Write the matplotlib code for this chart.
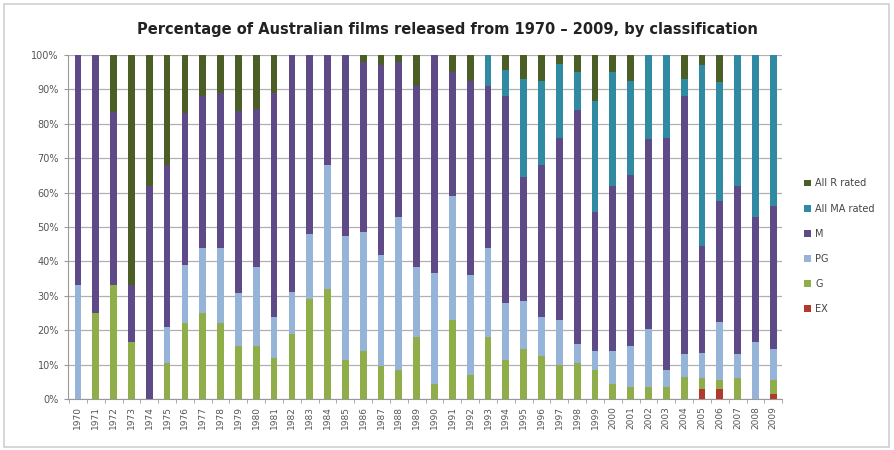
import numpy as np
import matplotlib
matplotlib.use("Agg")
from matplotlib import pyplot as plt
from matplotlib.patches import Rectangle

years = [str(y) for y in range(1970, 2010)]

# percentages per classification
ex = [0, 0, 0, 0, 0, 0, 0, 0, 0, 0,
      0, 0, 0, 0, 0, 0, 0, 0, 0, 0,
      0, 0, 0, 0, 0, 0, 0, 0, 0, 0,
      0, 0, 0, 0, 0, 3, 3, 0, 0, 1.5]
g = [0, 25, 33.3, 16.7, 0, 10.5, 22, 25, 22, 15.4,
     15.4, 12, 19, 29, 32, 11.5, 14, 9.5, 8.5, 18,
     4.5, 23, 7, 18, 11.5, 14.5, 12.5, 10, 10.5, 8.5,
     4.5, 3.5, 3.5, 3.5, 6.5, 3, 2.5, 6, 0, 4]
pg = [33.3, 0, 0, 0, 0, 10.5, 17, 19, 22, 15.4,
      23, 12, 12, 19, 36, 36, 34.5, 32.5, 44.5, 20.5,
      32, 36, 29, 26, 16.5, 14, 11.5, 13, 5.5, 5.5,
      9.5, 12, 17, 5, 6.5, 7.5, 17, 7, 16.5, 9]
m = [66.7, 75, 50, 16.6, 62, 47, 44, 44, 45, 53,
     46, 65, 69, 52, 32, 52.5, 49.5, 55, 45, 52.5,
     63.5, 36, 56.5, 47, 60, 36, 44, 53, 68, 40.5,
     48, 49.5, 55, 67.5, 75, 31, 35, 49, 36.5, 41.5]
ma = [0, 0, 0, 0, 0, 0, 0, 0, 0, 0,
      0, 0, 0, 0, 0, 0, 0, 0, 0, 0,
      0, 0, 0, 9, 7.5, 28.5, 24.5, 21.5, 11, 32,
      33, 27.5, 24.5, 24, 5, 52.5, 34.5, 38, 47, 44]
r = [0, 0, 16.7, 66.7, 38, 32, 17, 12, 11, 16.2,
     15.6, 11, 0, 0, 0, 0, 2, 3, 2, 9,
     0, 5, 7.5, 0, 4.5, 7, 7.5, 2.5, 5, 13.5,
     5, 7.5, 0, 0, 7, 3, 8, 0, 0, 0]

series = [("EX", ex, "#b3392f"),
          ("G", g, "#8fae4a"),
          ("PG", pg, "#96b3d8"),
          ("M", m, "#5e4a86"),
          ("All MA rated", ma, "#2f8aa2"),
          ("All R rated", r, "#4a5e26")]

fig = plt.figure(figsize=(8.94, 4.5), dpi=100)
fig.patch.set_facecolor("white")
fig.add_artist(Rectangle((0.004, 0.006), 0.99, 0.985, transform=fig.transFigure,
                         fill=False, edgecolor="#cfcfcf", linewidth=1.2))
ax = fig.add_axes([0.076, 0.113, 0.799, 0.765])

x = np.arange(len(years))
tot = np.array(ex) + np.array(g) + np.array(pg) + np.array(m) + np.array(ma) + np.array(r)
bottom = np.zeros(len(years))
handles = []
for name, vals, col in series:
    v = np.array(vals, dtype=float) / tot
    b = ax.bar(x, v, 0.38, bottom=bottom, color=col, label=name, zorder=3)
    handles.append(b)
    bottom += v

ax.set_xlim(-0.56, 39.5)
ax.set_ylim(0, 1)
ax.set_yticks(np.arange(0, 1.01, 0.1))
ax.set_yticklabels([f"{int(round(t*100))}%" for t in np.arange(0, 1.01, 0.1)],
                   fontsize=7, color="#555555")
ax.set_xticks(x)
ax.set_xticklabels(years, rotation=90, fontsize=6.5, color="#555555")
ax.set_xticks(np.arange(-0.5, 39.6, 1), minor=True)
ax.tick_params(axis="x", which="major", length=0, pad=5)
ax.tick_params(axis="x", which="minor", length=3, color="#999999")
ax.tick_params(axis="y", length=3, color="#999999")
ax.grid(axis="y", color="#b0b0b0", linewidth=0.9, zorder=0)
for s in ["top", "right"]:
    ax.spines[s].set_visible(False)
ax.spines["left"].set_color("#999999")
ax.spines["bottom"].set_color("#999999")

fig.text(0.5, 0.935, "Percentage of Australian films released from 1970 \u2013 2009, by classification",
         ha="center", va="center", fontsize=10.5, fontweight="bold", color="#222222")

fig.legend(handles[::-1], [s[0] for s in series][::-1], loc="center left",
           bbox_to_anchor=(0.89, 0.453), frameon=False, fontsize=7,
           handlelength=0.7, handleheight=0.7, labelspacing=1.55, handletextpad=0.4,
           labelcolor="#444444")

plt.savefig("out.png", dpi=100)
